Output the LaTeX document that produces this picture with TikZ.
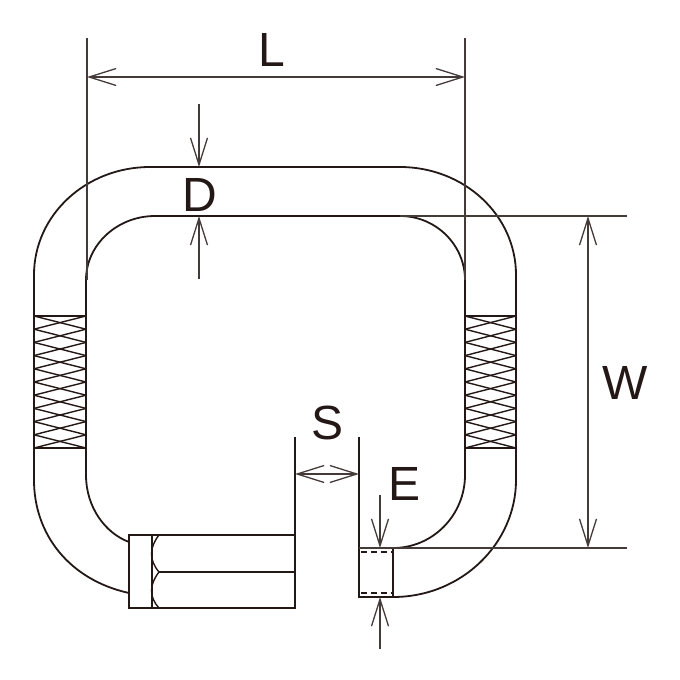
\documentclass[tikz,border=0pt]{standalone}
\usepackage{fontspec}
\setmainfont{Liberation Sans}
\usetikzlibrary{arrows.meta}
\definecolor{ink}{HTML}{231815}
\tikzset{
  part/.style={draw=ink,line width=1.8pt,line join=miter},
  thin part/.style={draw=ink,line width=1.4pt},
  dim/.style={draw=ink!85,line width=1.4pt},
  barb/.style={dim,arrows={-Straight Barb[length=27pt,width=17pt,line width=1.3pt]}},
  dbarb/.style={dim,arrows={Straight Barb[length=27pt,width=17pt,line width=1.3pt]-Straight Barb[length=27pt,width=17pt,line width=1.3pt]}},
  lbl/.style={text=ink,font=\fontsize{48}{48}\selectfont,inner sep=0pt,anchor=center},
}
\begin{document}
\begin{tikzpicture}[x=1pt,y=-1pt]
\useasboundingbox (0,0) rectangle (680,680);
% ring body: outer contour
\draw[part] (129,593) .. controls (70,580) and (34,535) .. (34,480)
  -- (34,275) .. controls (34,215) and (86,167) .. (150,167)
  -- (400,167) .. controls (464,167) and (516,215) .. (516,275)
  -- (516,480) .. controls (516,543) and (462,597) .. (393,597);
% ring body: inner contour
\draw[part] (129,542) .. controls (105,533) and (86,507) .. (86,475)
  -- (86,280) .. controls (86,245) and (117,216) .. (155,216)
  -- (400,216) .. controls (436,216) and (465,245) .. (465,280)
  -- (465,475) .. controls (465,515) and (433,548) .. (393,548);
% knurled bands
\foreach \xa/\xb in {34/86,465/516}{
  \draw[thin part] (\xa,316) -- (\xb,316) (\xa,448) -- (\xb,448);
  \foreach \i in {0,...,9}{
    \draw[thin part] (\xa,{316+13.2*\i}) -- (\xb,{316+13.2*(\i+1)});
    \draw[thin part] (\xb,{316+13.2*\i}) -- (\xa,{316+13.2*(\i+1)});
  }
}
% threaded end with nut
\draw[part] (295,437) -- (295,608) -- (129,608) -- (129,535) -- (295,535);
\draw[part] (152,535) -- (152,608);
\draw[part] (159,572) -- (295,572);
\draw[thin part] (159,535) .. controls (149,548) and (149,560) .. (159,572)
  .. controls (149,585) and (149,597) .. (159,608);
% open end with collar
\draw[part] (359,437) -- (359,597) -- (393,597) -- (393,548);
\draw[dim] (359,548) -- (627,548);
\draw[thin part,dash pattern=on 6pt off 4pt] (361,552) -- (393,552);
\draw[thin part,dash pattern=on 6pt off 4pt] (361,593) -- (393,593);
% extension lines
\draw[dim] (87,38) -- (87,280);
\draw[dim] (465,38) -- (465,280);
\draw[dim] (400,216) -- (627,216);
% dimensions
\coordinate (Lleft) at (87,77);
\coordinate (Lright) at (465,77);
\draw[dbarb] (Lleft) -- (Lright);
\coordinate (Wtop) at (588,216);
\coordinate (Wbot) at (588,548);
\draw[dbarb] (Wtop) -- (Wbot);
\coordinate (Sleft) at (295,474);
\coordinate (Sright) at (359,474);
\draw[dbarb] (Sleft) -- (Sright);
\coordinate (Da) at (199,104);
\coordinate (Db) at (199,167);
\coordinate (Dc) at (199,279);
\coordinate (Dd) at (199,216);
\draw[barb] (Da) -- (Db);
\draw[barb] (Dc) -- (Dd);
\coordinate (Ea) at (380,495);
\coordinate (Eb) at (380,548);
\coordinate (Ec) at (380,649);
\coordinate (Ed) at (380,597);
\draw[barb] (Ea) -- (Eb);
\draw[barb] (Ec) -- (Ed);
% labels
\node[lbl] (labL) at (272,50) {L};
\node[lbl] (labD) at (200,195) {D};
\node[lbl] (labW) at (625,383) {W};
\node[lbl] (labS) at (328,423) {S};
\node[lbl] (labE) at (405,484) {E};
\end{tikzpicture}
\end{document}
